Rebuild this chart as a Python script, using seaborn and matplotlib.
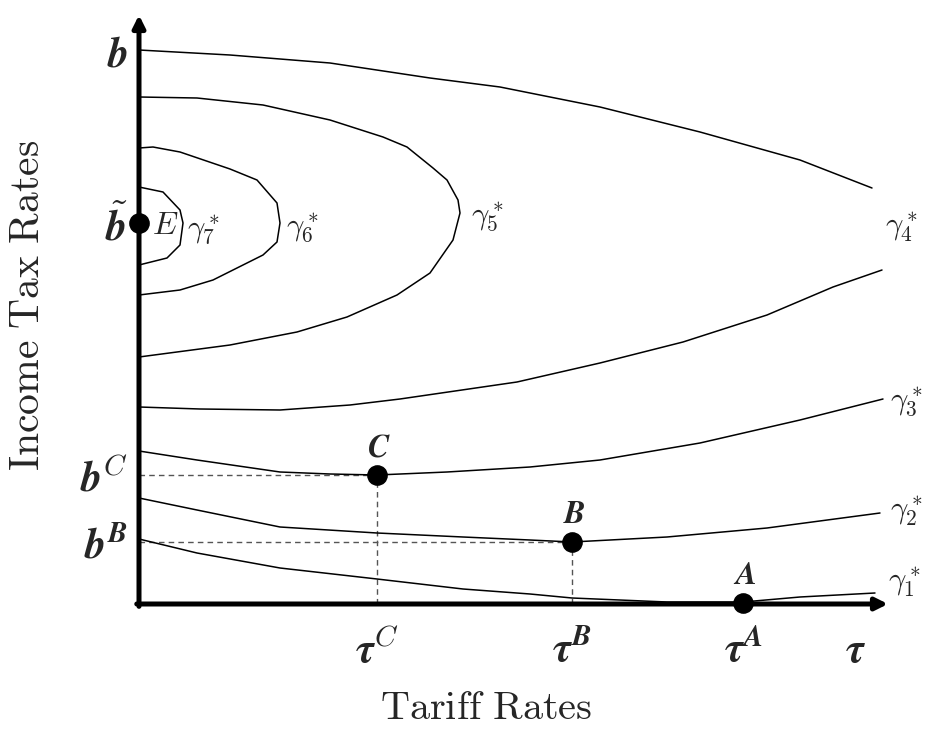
import numpy as np
import pandas as pd
import matplotlib
matplotlib.use("Agg")
import matplotlib.pyplot as plt
import seaborn as sns

# ---- data (arbitrary units: tariff rate tau, income tax rate b) ----
g1_tau = [0, 58, 141, 238, 324, 391, 433, 528, 604, 661, 736]
g1_b   = [65, 51, 36, 25, 15, 10, 6, 2, 2, 7, 11]

g2_tau = [0, 58, 141, 238, 324, 391, 433, 528, 628, 741]
g2_b   = [106, 94, 77, 71, 67, 64, 62, 67, 76, 91]

g3_tau = [0, 58, 141, 191, 238, 308, 391, 461, 561, 661, 744]
g3_b   = [153, 144, 132, 130, 129, 132, 137, 144, 161, 184, 205]

g4_low_tau = [0, 61, 141, 211, 261, 378, 461, 544, 628, 694, 743]
g4_low_b   = [197, 195, 194, 199, 205, 222, 241, 262, 289, 317, 334]
g4_up_tau  = [0, 91, 191, 291, 361, 461, 561, 661, 733]
g4_up_b    = [554, 549, 541, 526, 517, 497, 472, 444, 416]

g5_tau = [0, 58, 124, 191, 244, 268, 294, 308, 319, 321, 314, 291, 258, 208, 158, 91, 0]
g5_b   = [507, 506, 499, 484, 467, 457, 436, 424, 404, 391, 364, 331, 309, 287, 272, 259, 247]

g6_tau = [0, 14, 41, 91, 118, 138, 141, 138, 124, 104, 74, 41, 0]
g6_b   = [456, 457, 452, 435, 424, 401, 381, 362, 349, 339, 324, 314, 309]

g7_tau = [0, 24, 41, 44, 41, 28, 0]
g7_b   = [417, 412, 394, 381, 359, 346, 339]

point_names = ["E", "C", "B", "A"]
point_tau   = [0, 238, 433, 604]
point_b     = [381, 129, 62, 1]

x_tick_pos    = [238, 433, 604, 716]
x_tick_labels = [r"$\mathbfit{\tau}^{C}$", r"$\mathbfit{\tau}^{\mathbfit{B}}$",
                 r"$\mathbfit{\tau}^{\mathbfit{A}}$", r"$\mathbfit{\tau}$"]
y_tick_pos    = [554, 381, 129, 62]
y_tick_labels = [r"$\mathbfit{b}$", r"$\tilde{\mathbfit{b}}$",
                 r"$\mathbfit{b}^{C}$", r"$\mathbfit{b}^{\mathbfit{B}}$"]

curve_labels = [r"$\gamma_7^*$", r"$\gamma_{\mathbf{6}}^*$", r"$\gamma_5^*$",
                r"$\gamma_{\mathbf{4}}^*$", r"$\gamma_3^*$", r"$\gamma_2^*$", r"$\gamma_1^*$"]
curve_label_tau = [48, 147, 332, 746, 751, 751, 749]
curve_label_b   = [374, 376, 387, 376, 202, 92, 21]

# ---- long table ----
curves = {
    "g1": (g1_tau, g1_b), "g2": (g2_tau, g2_b), "g3": (g3_tau, g3_b),
    "g4_low": (g4_low_tau, g4_low_b), "g4_up": (g4_up_tau, g4_up_b),
    "g5": (g5_tau, g5_b), "g6": (g6_tau, g6_b), "g7": (g7_tau, g7_b),
}
rows = []
for name, (t, b) in curves.items():
    for i, (ti, bi) in enumerate(zip(t, b)):
        rows.append({"curve": name, "order": i, "tau": ti, "b": bi})
df = pd.DataFrame(rows)
pts = pd.DataFrame({"name": point_names, "tau": point_tau, "b": point_b})

sns.set_theme(style="white")
plt.rcParams["mathtext.fontset"] = "cm"
plt.rcParams["font.family"] = ["DejaVu Serif"]

W, H = 925, 732
fig = plt.figure(figsize=(W / 100, H / 100), dpi=100)
x0, y0, x1, y1 = 139, 604, 888, 15
ax = fig.add_axes([x0 / W, 1 - y0 / H, (x1 - x0) / W, (y0 - y1) / H])
ax.set_xlim(0, x1 - x0)
ax.set_ylim(0, y0 - y1)
for s in ax.spines.values():
    s.set_visible(False)

# dashed guide lines
dash_kw = dict(color="#555555", lw=1.0, ls=(0, (4, 3)))
for name in ["C", "B"]:
    r = pts[pts.name == name].iloc[0]
    ax.plot([0, r.tau], [r.b, r.b], **dash_kw)
    ax.plot([r.tau, r.tau], [0, r.b], **dash_kw)

sns.lineplot(data=df, x="tau", y="b", units="curve", estimator=None, sort=False,
             color="black", lw=1.1, ax=ax, legend=False)

# axes with arrows
arrow_kw = dict(arrowstyle="-|>", color="black", lw=3.6, mutation_scale=18,
                shrinkA=0, shrinkB=0)
ax.annotate("", xy=(1, 0), xytext=(-0.003, 0), xycoords="axes fraction",
            arrowprops=arrow_kw, annotation_clip=False)
ax.annotate("", xy=(0, 1), xytext=(0, -0.004), xycoords="axes fraction",
            arrowprops=arrow_kw, annotation_clip=False)

sns.scatterplot(data=pts, x="tau", y="b", color="black", s=190, ax=ax,
                zorder=5, clip_on=False, edgecolor="black", legend=False)

# point labels
for name, t, b in zip(point_names, point_tau, point_b):
    if name == "E":
        ax.text(t + 13, b - 2, r"$E$", fontsize=23, ha="left", va="center")
    else:
        ax.text(t + 2, b + 12, r"$\mathbfit{%s}$" % name, fontsize=23,
                ha="center", va="bottom")

for lab, t, b in zip(curve_labels, curve_label_tau, curve_label_b):
    ax.text(t, b, lab, fontsize=22, ha="left", va="center", clip_on=False)

ax.set_xticks(x_tick_pos)
ax.set_xticklabels(x_tick_labels, fontsize=30)
ax.set_yticks(y_tick_pos)
ax.set_yticklabels(y_tick_labels, fontsize=30)
ax.tick_params(axis="both", length=0)
ax.tick_params(axis="x", pad=18)
ax.tick_params(axis="y", pad=8)

ax.set_xlabel(r"$\mathrm{Tariff\ Rates}$", fontsize=29)
ax.set_ylabel(r"$\mathrm{Income\ Tax\ Rates}$", fontsize=30)
ax.xaxis.set_label_coords((486 - x0) / (x1 - x0), (y0 - 690) / (y0 - y1))
ax.yaxis.set_label_coords((48 - x0) / (x1 - x0), (y0 - 305) / (y0 - y1))

fig.savefig("out.png", dpi=100)
